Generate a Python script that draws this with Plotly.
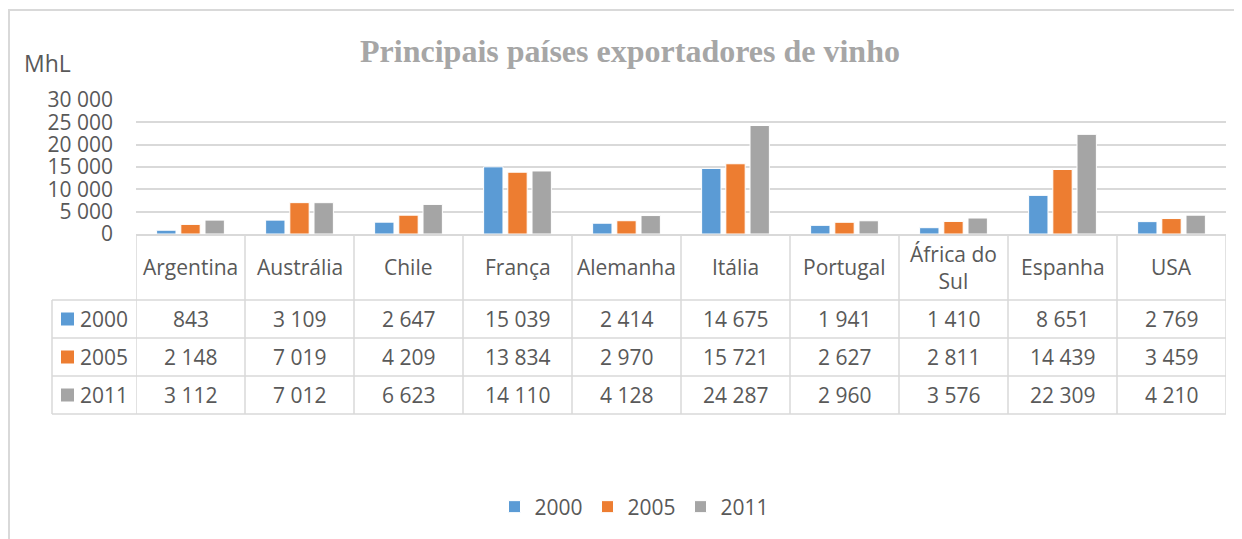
import plotly.graph_objects as go


# ── Data (MhL exported) ────────────────────────────────────────────────────────

COUNTRIES = ["Argentina", "Austrália", "Chile", "França", "Alemanha",
             "Itália", "Portugal", "África do Sul", "Espanha", "USA"]

EXPORTS = {
    "2000": [843, 3109, 2647, 15039, 2414, 14675, 1941, 1410, 8651, 2769],
    "2005": [2148, 7019, 4209, 13834, 2970, 15721, 2627, 2811, 14439, 3459],
    "2011": [3112, 7012, 6623, 14110, 4128, 24287, 2960, 3576, 22309, 4210],
}

COLORS = {"2000": "#5b9bd5", "2005": "#ed7d31", "2011": "#a5a5a5"}

FONT = "Open Sans"
TEXT = "#595959"
GRID = "#d9d9d9"

# page offset of the figure (browser body margin)
OFF = 8
WIDTH, HEIGHT = 1242 - OFF, 539 - OFF

# plot area in window pixels (used to place the data table under the axis)
PLOT_L, PLOT_R, PLOT_T, PLOT_B = 136, 1226, 100, 234


# ── Pixel -> paper helpers ─────────────────────────────────────────────────────

def _px(x: float) -> float:
    """Horizontal pixel position to paper coordinate."""
    return (x - PLOT_L) / (PLOT_R - PLOT_L)


def _py(y: float) -> float:
    """Vertical pixel position to paper coordinate."""
    return (PLOT_B - y) / (PLOT_B - PLOT_T)


def _fmt(v: int) -> str:
    return f"{v:,}".replace(",", " ")


def _text(x, y, text, xref="x", xanchor="center", size=21):
    return dict(x=x, y=y, xref=xref, yref="paper", text=text, showarrow=False,
                xanchor=xanchor, yanchor="middle",
                font=dict(family=FONT, size=size, color=TEXT))


# ── Clustered bars with an Excel-like data table ───────────────────────────────

def build_export_chart() -> go.Figure:
    """Grouped bar chart of wine exports, data table drawn below the x axis."""
    fig = go.Figure()

    for year, values in EXPORTS.items():
        fig.add_trace(go.Bar(
            x=COUNTRIES, y=values,
            name=year,
            marker=dict(color=COLORS[year], line=dict(color="white", width=1)),
            hovertemplate="%{x}: %{y:,d} MhL<extra>" + year + "</extra>",
        ))

    shapes = []
    annotations = []
    line = dict(color=GRID, width=1.5)

    row_edges = [234, 300, 338, 376, 414]

    # Vertical cell borders (category boundaries)
    for i in range(len(COUNTRIES) + 1):
        shapes.append(dict(type="line", xref="x", yref="paper",
                           x0=i - 0.5, x1=i - 0.5,
                           y0=_py(row_edges[0]), y1=_py(row_edges[-1]),
                           line=line))
    # Left column border
    shapes.append(dict(type="line", xref="paper", yref="paper",
                       x0=_px(52), x1=_px(52),
                       y0=_py(row_edges[1]), y1=_py(row_edges[-1]), line=line))
    # Horizontal row borders
    for y in row_edges[1:]:
        shapes.append(dict(type="line", xref="paper", yref="paper",
                           x0=_px(52), x1=1, y0=_py(y), y1=_py(y), line=line))

    # Header row: country names
    for c in COUNTRIES:
        label = "África do<br>Sul" if c == "África do Sul" else c
        annotations.append(_text(c, _py(267), label))

    # Value rows with legend keys
    for r, (year, values) in enumerate(EXPORTS.items()):
        yc = (row_edges[r + 1] + row_edges[r + 2]) / 2
        shapes.append(dict(type="rect", xref="paper", yref="paper",
                           x0=_px(61), x1=_px(74), y0=_py(yc - 6.5), y1=_py(yc + 6.5),
                           fillcolor=COLORS[year], line=dict(width=0)))
        annotations.append(_text(_px(78), _py(yc), year, xref="paper", xanchor="left"))
        for c, v in zip(COUNTRIES, values):
            annotations.append(_text(c, _py(yc), _fmt(v)))

    # Unit label
    annotations.append(_text(_px(22), _py(63), "MhL", xref="paper",
                             xanchor="left", size=23))

    # Chart frame (top and left edges visible, rest cut off)
    shapes.append(dict(type="rect", xref="paper", yref="paper", layer="below",
                       x0=_px(OFF + 1), x1=_px(1260), y0=_py(10), y1=_py(560),
                       line=dict(color=GRID, width=2)))

    fig.update_layout(
        title=dict(
            text="<b>Principais países exportadores de vinho</b>",
            font=dict(family="Liberation Serif", size=32, color="#a6a6a6"),
            xref="container", x=(630 - OFF) / WIDTH, xanchor="center",
            yref="container", y=1 - (51 - OFF) / HEIGHT, yanchor="middle",
        ),
        barmode="group",
        bargap=0.334,
        bargroupgap=0.2,
        separators=", ",
        xaxis=dict(showticklabels=False, showgrid=False, range=[-0.5, 9.5],
                   showline=True, linecolor=GRID, linewidth=2, fixedrange=True),
        yaxis=dict(range=[0, 30000], dtick=5000, tickformat=",d",
                   gridcolor=GRID, gridwidth=2, zeroline=False,
                   ticklabelstandoff=22,
                   tickfont=dict(family=FONT, size=21, color=TEXT)),
        legend=dict(orientation="h", xref="container", x=(634 - OFF) / WIDTH,
                    xanchor="center", yref="container", y=1 - (507 - OFF) / HEIGHT,
                    yanchor="middle", font=dict(family=FONT, size=21, color=TEXT),
                    itemwidth=30, entrywidth=48, traceorder="normal"),
        shapes=shapes,
        annotations=annotations,
        paper_bgcolor="white",
        plot_bgcolor="white",
        font=dict(family=FONT, color=TEXT),
        width=WIDTH,
        height=HEIGHT,
        margin=dict(l=PLOT_L - OFF, r=1242 - PLOT_R, t=PLOT_T - OFF, b=539 - PLOT_B),
        autosize=False,
    )
    return fig


fig = build_export_chart()
fig.write_html("out.html")
